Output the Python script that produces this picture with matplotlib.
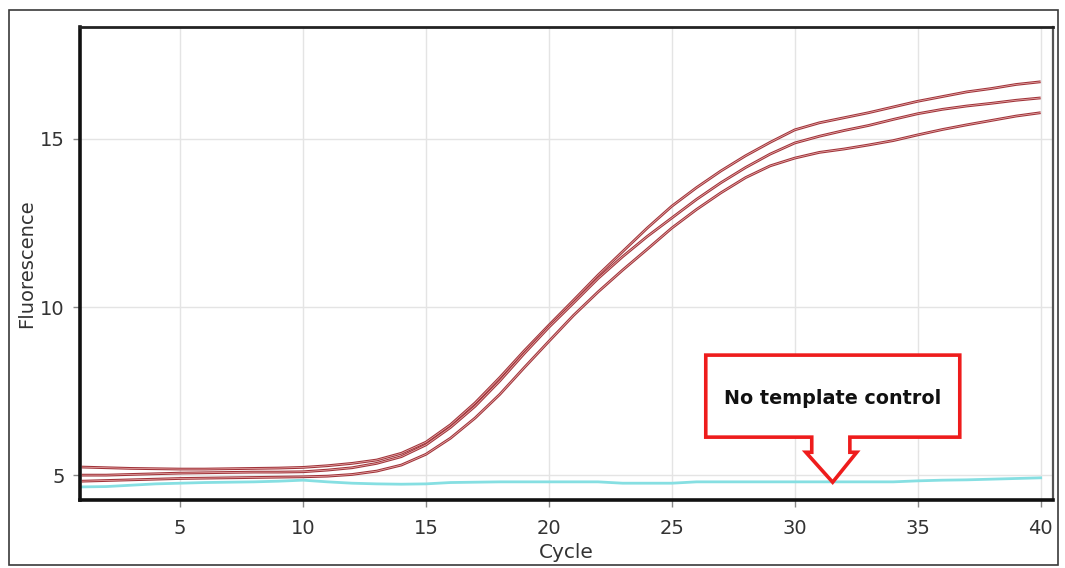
import matplotlib
matplotlib.use("Agg")
import matplotlib.pyplot as plt
from matplotlib.patches import Rectangle, Polygon

plt.rcParams['font.family'] = ['DejaVu Sans']

cycles = list(range(1, 41))

# Amplification curves (three replicates)
rep_high = [5.24, 5.22, 5.20, 5.19, 5.18, 5.18, 5.19, 5.20, 5.21, 5.23,
            5.28, 5.35, 5.45, 5.65, 5.98, 6.50, 7.15, 7.90, 8.70, 9.46,
            10.20, 10.95, 11.65, 12.35, 13.00, 13.55, 14.05, 14.50, 14.90, 15.27,
            15.48, 15.63, 15.78, 15.95, 16.12, 16.26, 16.40, 16.50, 16.62, 16.70]
rep_mid = [5.00, 5.00, 5.02, 5.04, 5.06, 5.07, 5.08, 5.09, 5.09, 5.10,
           5.15, 5.22, 5.35, 5.55, 5.90, 6.42, 7.05, 7.80, 8.62, 9.40,
           10.12, 10.85, 11.50, 12.10, 12.65, 13.20, 13.70, 14.15, 14.55, 14.88,
           15.08, 15.25, 15.40, 15.58, 15.75, 15.88, 15.98, 16.06, 16.15, 16.22]
rep_low = [4.82, 4.84, 4.86, 4.88, 4.90, 4.91, 4.92, 4.93, 4.94, 4.95,
           4.97, 5.02, 5.12, 5.30, 5.62, 6.10, 6.70, 7.40, 8.20, 8.98,
           9.75, 10.45, 11.10, 11.72, 12.35, 12.90, 13.40, 13.85, 14.20, 14.43,
           14.60, 14.70, 14.82, 14.95, 15.12, 15.28, 15.42, 15.55, 15.68, 15.78]
ntc = [4.65, 4.66, 4.70, 4.74, 4.76, 4.78, 4.79, 4.80, 4.82, 4.85,
       4.80, 4.76, 4.74, 4.73, 4.74, 4.78, 4.79, 4.80, 4.80, 4.80,
       4.80, 4.80, 4.76, 4.76, 4.76, 4.80, 4.80, 4.80, 4.80, 4.80,
       4.80, 4.80, 4.80, 4.80, 4.83, 4.85, 4.86, 4.88, 4.90, 4.92]

xticks = [5, 10, 15, 20, 25, 30, 35, 40]
yticks = [5, 10, 15]

fig = plt.figure(figsize=(10.65, 5.68), dpi=100)
ax = fig.add_axes([0.0751, 0.1197, 0.9136, 0.8328])

# outer frame around the whole figure
fig.patches.append(Rectangle((9 / 1065, 3 / 568), 1049 / 1065, 555 / 568,
                             transform=fig.transFigure, fill=False,
                             edgecolor='#3a3a3a', linewidth=1.2))

ax.set_xlim(0.93, 40.5)
ax.set_ylim(4.26, 18.33)
ax.set_xticks(xticks)
ax.set_yticks(yticks)
ax.grid(True, color='#e4e4e4', linewidth=1.0)
ax.set_axisbelow(True)

for series in (rep_high, rep_mid, rep_low):
    ax.plot(cycles, series, color='#a0343a', linewidth=2.0, solid_capstyle='butt')
    ax.plot(cycles, series, color='#eeb4b4', linewidth=0.5)
ax.plot(cycles, ntc, color='#86dfe2', linewidth=2.0)

ax.tick_params(axis='both', colors='#888888', labelcolor='#333333',
               labelsize=14, length=5, width=1)
ax.tick_params(axis='x', pad=9)
ax.tick_params(axis='y', pad=6)
ax.set_xlabel('Cycle', fontsize=14.5, color='#333333', labelpad=3)
ax.set_ylabel('Fluorescence', fontsize=14, color='#333333', labelpad=3)

for side in ('left', 'bottom'):
    ax.spines[side].set_linewidth(2.6)
    ax.spines[side].set_color('#111111')
ax.spines['top'].set_linewidth(2.0)
ax.spines['top'].set_color('#222222')
ax.spines['right'].set_linewidth(1.6)
ax.spines['right'].set_color('#555555')

# callout box pointing at the no-template control trace
callout = [(26.38, 8.57), (36.71, 8.57), (36.71, 6.13), (32.24, 6.13),
           (32.24, 5.68), (32.52, 5.68), (31.54, 4.79), (30.45, 5.68),
           (30.69, 5.68), (30.69, 6.13), (26.38, 6.13)]
ax.add_patch(Polygon(callout, closed=True, facecolor='white',
                     edgecolor='#ee1c1c', linewidth=2.6, zorder=5))
ax.text(31.54, 7.29, 'No template control', ha='center', va='center',
        fontsize=13.8, fontweight='bold', color='#111111', zorder=6)

fig.savefig('out.png', dpi=100)
